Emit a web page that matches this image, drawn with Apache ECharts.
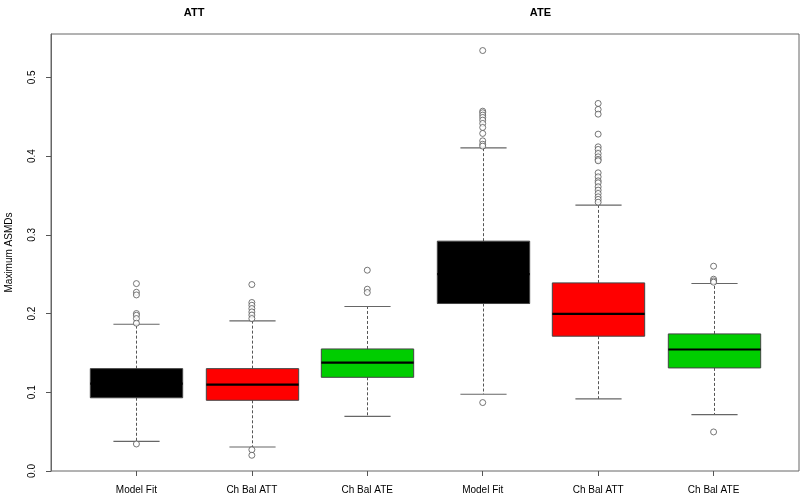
<!DOCTYPE html>
<html>
<head>
<meta charset="utf-8">
<script src="https://cdn.jsdelivr.net/npm/echarts@6/dist/echarts.min.js"></script>
<style>
html,body{margin:0;padding:0;background:#fff;}
#chart{width:800px;height:497px;}
</style>
</head>
<body>
<div id="chart"></div>
<script>
// ---- data ----
const categories = ['Model Fit', 'Ch Bal ATT', 'Ch Bal ATE', 'Model Fit', 'Ch Bal ATT', 'Ch Bal ATE'];
const groupLabels = ['ATT', 'ATE'];
const groupPositions = [1.5, 4.5];
const lowerWhisker = [0.0377, 0.0305, 0.0695, 0.0975, 0.0915, 0.0716];
const q1Values     = [0.0930, 0.0898, 0.1190, 0.2127, 0.1712, 0.1309];
const medianValues = [0.1110, 0.1098, 0.1377, 0.2500, 0.1995, 0.1543];
const q3Values     = [0.1300, 0.1300, 0.1550, 0.2919, 0.2389, 0.1741];
const upperWhisker = [0.1864, 0.1906, 0.2089, 0.4104, 0.3376, 0.2381];
const outliers1 = [0.238, 0.227, 0.2236, 0.200, 0.1978, 0.1936, 0.1877, 0.0343];
const outliers2 = [0.2368, 0.214, 0.2105, 0.2063, 0.202, 0.198, 0.1936, 0.027, 0.020];
const outliers3 = [0.255, 0.2309, 0.2267];
const outliers4 = [0.534, 0.457, 0.455, 0.452, 0.449, 0.4456, 0.4414, 0.4363, 0.4287, 0.4193, 0.415, 0.4126, 0.0869];
const outliers5 = [0.4668, 0.4592, 0.4532, 0.4278, 0.4117, 0.4084, 0.4033, 0.399, 0.3957, 0.394, 0.3787, 0.3736, 0.3685, 0.366, 0.3609, 0.3567, 0.3525, 0.3482, 0.3449, 0.3414];
const outliers6 = [0.2601, 0.2436, 0.2415, 0.2398, 0.0496];
const yTicks = [0, 0.1, 0.2, 0.3, 0.4, 0.5];

// ---- style ----
const boxColors = ['#000000', '#FF0000', '#00CD00', '#000000', '#FF0000', '#00CD00'];
const BOX_W = 0.8, CAP_W = 0.4;
const FONT = '"Liberation Sans", Arial, sans-serif';

const positions = categories.map((c, i) => i + 1);
const boxData = categories.map((c, i) => [positions[i], lowerWhisker[i], q1Values[i], medianValues[i], q3Values[i], upperWhisker[i], i]);
const allOutliers = [outliers1, outliers2, outliers3, outliers4, outliers5, outliers6];
const outlierData = [];
allOutliers.forEach((arr, i) => arr.forEach(v => outlierData.push([positions[i], v])));

function renderBox(params, api) {
  const x = api.value(0);
  const pLo = api.coord([x, api.value(1)]);
  const pQ1 = api.coord([x, api.value(2)]);
  const pMd = api.coord([x, api.value(3)]);
  const pQ3 = api.coord([x, api.value(4)]);
  const pHi = api.coord([x, api.value(5)]);
  const idx = api.value(6);
  const hb = api.size([BOX_W / 2, 0])[0];
  const hc = api.size([CAP_W / 2, 0])[0];
  const cx = Math.round(pMd[0]) + 0.5;
  const whiskerStyle = { stroke: '#555', lineWidth: 1, lineDash: [3, 2] };
  const capStyle = { stroke: '#666', lineWidth: 1.2 };
  return {
    type: 'group',
    children: [
      { type: 'line', shape: { x1: cx, y1: pQ3[1], x2: cx, y2: pHi[1] }, style: whiskerStyle },
      { type: 'line', shape: { x1: cx, y1: pQ1[1], x2: cx, y2: pLo[1] }, style: whiskerStyle },
      { type: 'line', shape: { x1: cx - hc, y1: pHi[1], x2: cx + hc, y2: pHi[1] }, style: capStyle },
      { type: 'line', shape: { x1: cx - hc, y1: pLo[1], x2: cx + hc, y2: pLo[1] }, style: capStyle },
      { type: 'rect', shape: { x: cx - hb, y: pQ3[1], width: hb * 2, height: pQ1[1] - pQ3[1] },
        style: { fill: boxColors[idx], stroke: '#444', lineWidth: 1 } },
      { type: 'line', shape: { x1: cx - hb, y1: pMd[1], x2: cx + hb, y2: pMd[1] }, style: { stroke: '#000', lineWidth: 2.2 } }
    ]
  };
}

const chart = echarts.init(document.getElementById('chart'), null, { renderer: 'canvas' });
chart.setOption({
  animation: false,
  backgroundColor: '#fff',
  grid: { left: 51, right: 1, top: 34, bottom: 26, outerBoundsMode: 'none', containLabel: false,
    show: true, borderColor: '#666', borderWidth: 1, backgroundColor: 'transparent' },
  xAxis: [{
    type: 'value', min: 0.26, max: 6.74, position: 'bottom',
    axisLine: { show: false }, splitLine: { show: false },
    axisTick: { show: true, length: 5, customValues: positions, lineStyle: { color: '#555' } },
    axisLabel: { show: true, customValues: positions, margin: 14, fontSize: 10, fontFamily: FONT, color: '#000',
      formatter: v => categories[Math.round(v) - 1] || '' }
  }, {
    type: 'value', min: 0.26, max: 6.74, position: 'top',
    axisLine: { show: false }, splitLine: { show: false }, axisTick: { show: false },
    axisLabel: { show: true, customValues: groupPositions, margin: 16, fontSize: 11, fontWeight: 'bold', fontFamily: FONT, color: '#000',
      formatter: v => groupLabels[groupPositions.indexOf(v)] || '' }
  }],
  yAxis: {
    type: 'value', min: 0, max: 0.555,
    name: 'Maximum ASMDs', nameLocation: 'middle', nameRotate: 90, nameGap: 37,
    nameTextStyle: { fontSize: 10, fontFamily: FONT, color: '#000' },
    axisLine: { show: true, lineStyle: { color: '#666' } }, splitLine: { show: false },
    axisTick: { show: true, length: 5, customValues: yTicks, lineStyle: { color: '#555' } },
    axisLabel: { show: true, customValues: yTicks, rotate: 90, margin: 14, fontSize: 10, fontFamily: FONT, color: '#000',
      formatter: v => v.toFixed(1) }
  },
  series: [{
    type: 'custom', renderItem: renderBox, data: boxData, encode: { x: 0, y: [1, 2, 3, 4, 5] }, z: 2
  }, {
    type: 'scatter', data: outlierData, symbol: 'circle', symbolSize: 6,
    itemStyle: { color: '#fff', borderColor: '#555', borderWidth: 1 }, z: 3
  }]
});
</script>
</body>
</html>
